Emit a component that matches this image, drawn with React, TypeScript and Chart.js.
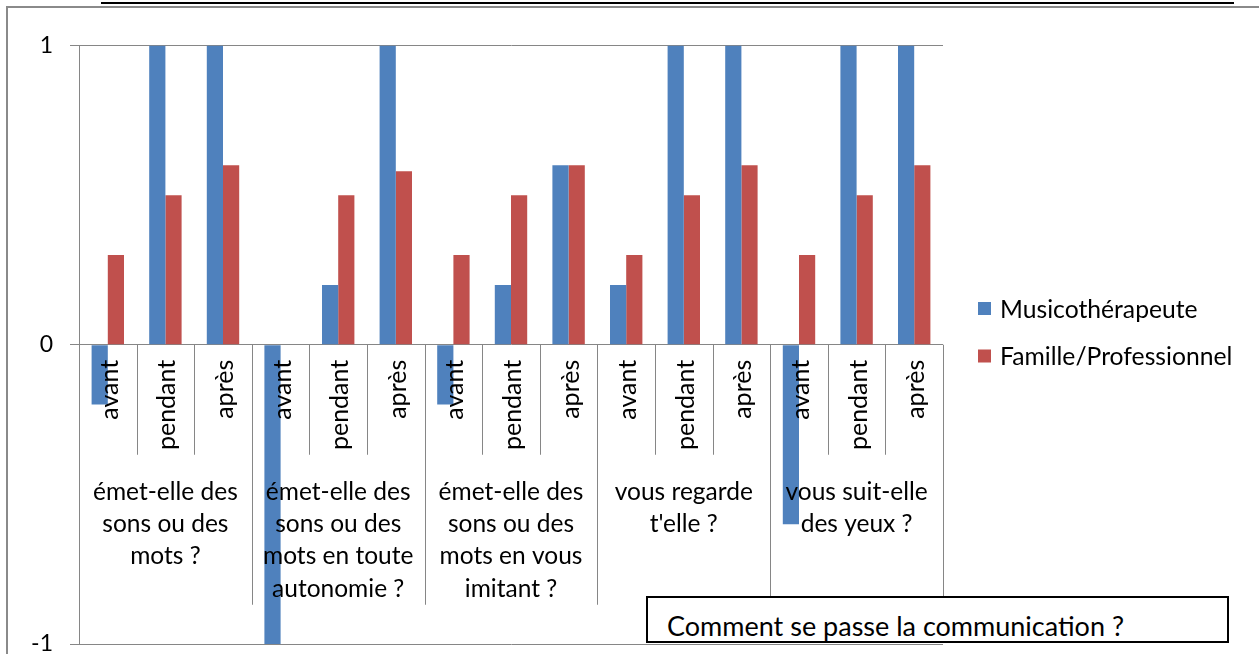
import React, { useEffect, useRef } from "react";
import { Chart, registerables } from "chart.js";

Chart.register(...registerables);

const phases = ["avant", "pendant", "après"];
const groupLabels: string[][] = [
  ["émet-elle des", "sons ou des", "mots ?"],
  ["émet-elle des", "sons ou des", "mots en toute", "autonomie ?"],
  ["émet-elle des", "sons ou des", "mots en vous", "imitant ?"],
  ["vous regarde", "t'elle ?"],
  ["vous suit-elle", "des yeux ?"],
];
const musicotherapeute = [-0.2, 1, 1, -1, 0.2, 1, -0.2, 0.2, 0.6, 0.2, 1, 1, -0.6, 1, 1];
const familleProfessionnel = [0.3, 0.5, 0.6, 0, 0.5, 0.58, 0.3, 0.5, 0.6, 0.3, 0.5, 0.6, 0.3, 0.5, 0.6];
const seriesNames = ["Musicothérapeute", "Famille/Professionnel"];
const yTicks = [-1, 0, 1];
const boxTitle = "Comment se passe la communication ?";

const FONT = "Lato, 'Noto Sans', sans-serif";
const GRID = "#868686";
const BLUE = "#4F81BD";
const RED = "#C0504D";

const labels: string[] = groupLabels.flatMap(() => phases);

const overlayPlugin = {
  id: "excelMultiAxis",
  afterDatasetsDraw(chart: any) {
    const ctx = chart.ctx as CanvasRenderingContext2D;
    const xs = chart.scales.x;
    const ys = chart.scales.y;
    const y0 = ys.getPixelForValue(0);
    const catW = xs.getPixelForValue(1) - xs.getPixelForValue(0);
    const n = labels.length;
    ctx.save();
    // tick separators
    ctx.strokeStyle = GRID;
    ctx.lineWidth = 1;
    for (let i = 0; i <= n; i++) {
      const x = Math.round(xs.getPixelForValue(i) - catW / 2) + 0.5;
      const long = i % phases.length === 0;
      ctx.beginPath();
      ctx.moveTo(x, y0);
      ctx.lineTo(x, long ? y0 + 260 : y0 + 110);
      ctx.stroke();
    }
    // inner rotated labels
    ctx.fillStyle = "#000";
    ctx.font = `25px ${FONT}`;
    ctx.textAlign = "right";
    ctx.textBaseline = "middle";
    for (let i = 0; i < n; i++) {
      const x = xs.getPixelForValue(i);
      ctx.save();
      ctx.translate(x + 2, y0 + 15);
      ctx.rotate(-Math.PI / 2);
      ctx.fillText(labels[i], 0, 0);
      ctx.restore();
    }
    // group labels
    ctx.textAlign = "center";
    ctx.font = `24.5px ${FONT}`;
    groupLabels.forEach((lines, g) => {
      const cx = (xs.getPixelForValue(g * 3) + xs.getPixelForValue(g * 3 + 2)) / 2;
      lines.forEach((line, k) => {
        ctx.fillText(line, cx, y0 + 147 + k * 32.3);
      });
    });
    // legend
    const colors = [BLUE, RED];
    ctx.textAlign = "left";
    ctx.font = `24.7px ${FONT}`;
    seriesNames.forEach((name, k) => {
      const cy = 309 + k * 47.5;
      ctx.fillStyle = colors[k];
      ctx.fillRect(978, cy - 7, 13, 13);
      ctx.fillStyle = "#000";
      ctx.fillText(name, 1000, cy + 1);
    });
    ctx.restore();
  },
};

export default function App() {
  const ref = useRef<HTMLCanvasElement | null>(null);
  useEffect(() => {
    if (!ref.current) return;
    const chart = new Chart(ref.current, {
      type: "bar",
      data: {
        labels,
        datasets: [
          { label: seriesNames[0], data: musicotherapeute, backgroundColor: BLUE, barPercentage: 1, categoryPercentage: 0.5625 },
          { label: seriesNames[1], data: familleProfessionnel, backgroundColor: RED, barPercentage: 1, categoryPercentage: 0.5625 },
        ],
      },
      options: {
        responsive: false,
        animation: false,
        devicePixelRatio: 1,
        layout: { padding: { left: 0, right: 316, top: 45.5, bottom: 10 } },
        plugins: { legend: { display: false }, tooltip: { enabled: false } },
        scales: {
          x: { type: "category", display: false, offset: true },
          y: {
            min: -1,
            max: 1,
            afterBuildTicks: (s: any) => {
              s.ticks = yTicks.map((v) => ({ value: v }));
            },
            afterFit: (s: any) => {
              s.width = 79;
              s.paddingTop = 0;
              s.paddingBottom = 0;
            },
            ticks: { color: "#000", font: { family: FONT, size: 23 }, padding: 17 },
            grid: { color: GRID, lineWidth: 1, tickLength: 9, drawTicks: true },
            border: { color: GRID, width: 1 },
          },
        },
      },
      plugins: [overlayPlugin],
    });
    return () => chart.destroy();
  }, []);

  return (
    <div style={{ position: "absolute", left: 0, top: 0, width: 1259, height: 654, overflow: "hidden", background: "#fff" }}>
      <div style={{ position: "absolute", left: 101, top: 2, width: 1133, height: 2, background: "#000" }} />
      <div style={{ position: "absolute", left: 6, top: 6, width: 1300, height: 700, borderLeft: "2px solid #8a8a8a", borderTop: "2px solid #8a8a8a" }} />
      <canvas ref={ref} width={1259} height={654} style={{ position: "absolute", left: 0, top: 0 }} />
      <div
        style={{
          position: "absolute",
          left: 646,
          top: 596,
          width: 560,
          height: 37,
          border: "2px solid #000",
          background: "#fff",
          fontFamily: FONT,
          fontSize: 27,
          lineHeight: "43px",
          paddingLeft: 19,
          paddingTop: 6,
          boxSizing: "content-box",
          whiteSpace: "nowrap",
          overflow: "hidden",
          color: "#000",
        }}
      >
        {boxTitle}
      </div>
    </div>
  );
}
